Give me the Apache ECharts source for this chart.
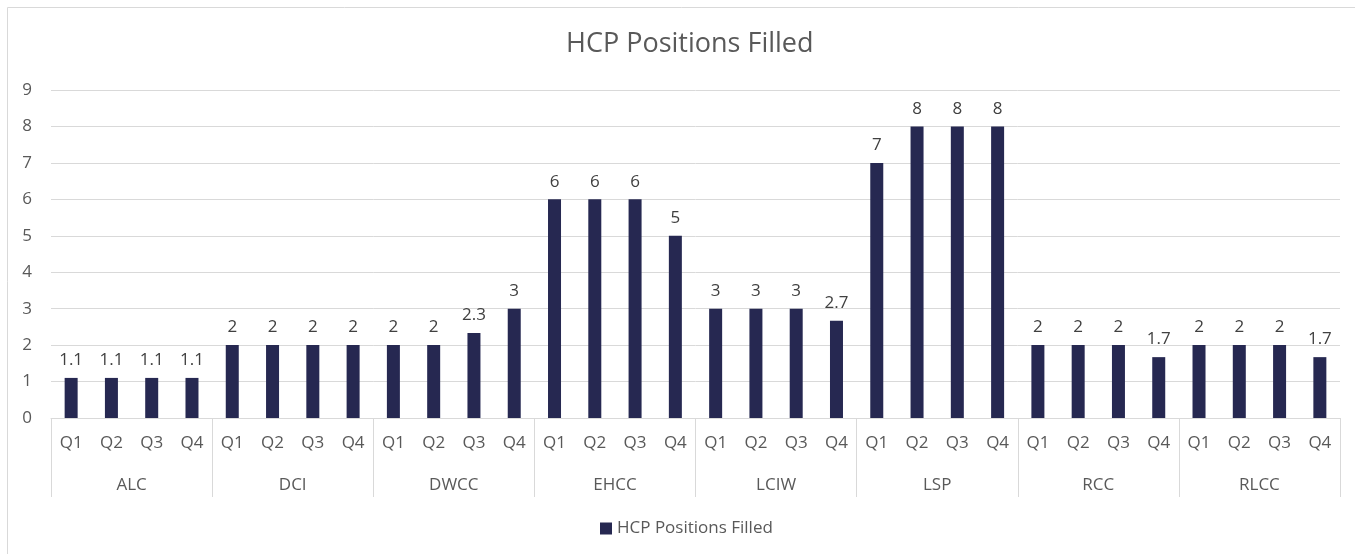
<!DOCTYPE html>
<html>
<head>
<meta charset="utf-8">
<script src="https://cdn.jsdelivr.net/npm/echarts@6/dist/echarts.min.js"></script>
<style>
  html, body { margin: 0; padding: 0; background: #fff; }
  #chart { width: 1355px; height: 554px; }
</style>
</head>
<body>
<div id="chart"></div>
<script>
// sites and quarters (two-level category axis)
var sites = ['ALC', 'DCI', 'DWCC', 'EHCC', 'LCIW', 'LSP', 'RCC', 'RLCC']
var quarters = ['Q1', 'Q2', 'Q3', 'Q4']
// values per site, Q1..Q4
var alc = [1.1, 1.1, 1.1, 1.1]
var dci = [2, 2, 2, 2]
var dwcc = [2, 2, 2.33, 3]
var ehcc = [6, 6, 6, 5]
var lciw = [3, 3, 3, 2.67]
var lsp = [7, 8, 8, 8]
var rcc = [2, 2, 2, 1.67]
var rlcc = [2, 2, 2, 1.67]
var yTicks = [0, 1, 2, 3, 4, 5, 6, 7, 8, 9]

var seriesName = 'HCP Positions Filled'
var textColor = '#595959'
var font = 'Open Sans'

// flatten into one row per quarter
var quarterLabels = []
var values = []
;[alc, dci, dwcc, ehcc, lciw, lsp, rcc, rlcc].forEach(function (arr) {
  arr.forEach(function (v, i) {
    quarterLabels.push(quarters[i])
    values.push(v)
  })
})

var chart = echarts.init(document.getElementById('chart'))
chart.setOption({
  animation: false,
  textStyle: { fontFamily: font },
  title: {
    text: seriesName,
    left: 561,
    top: 26,
    textStyle: { color: textColor, fontSize: 27, fontWeight: 400, fontFamily: font }
  },
  legend: {
    bottom: 12,
    left: 595,
    itemWidth: 12,
    itemHeight: 12,
    itemGap: 5,
    icon: 'rect',
    textStyle: { color: textColor, fontSize: 17, fontFamily: font },
    data: [seriesName]
  },
  grid: { left: 51, right: 15, top: 90, bottom: 136 },
  xAxis: [
    {
      type: 'category',
      data: quarterLabels,
      position: 'bottom',
      axisLine: { lineStyle: { color: '#d9d9d9' } },
      axisTick: { show: false },
      axisLabel: { color: textColor, fontSize: 17, margin: 17, interval: 0 }
    },
    {
      type: 'category',
      data: sites,
      position: 'bottom',
      axisLine: { show: false },
      axisTick: { show: true, length: 79, lineStyle: { color: '#d9d9d9' } },
      axisLabel: { color: textColor, fontSize: 17, margin: 59, interval: 0 },
      splitLine: { show: false }
    }
  ],
  yAxis: {
    type: 'value',
    min: yTicks[0],
    max: yTicks[yTicks.length - 1],
    interval: 1,
    axisLine: { show: false },
    axisTick: { show: false },
    splitLine: { lineStyle: { color: '#d9d9d9' } },
    axisLabel: { color: textColor, fontSize: 17, margin: 19 }
  },
  series: [{
    name: seriesName,
    type: 'bar',
    xAxisIndex: 0,
    data: values,
    barWidth: 13,
    itemStyle: { color: '#262851' },
    label: {
      show: true,
      position: 'top',
      distance: 9,
      color: '#404040',
      fontSize: 17,
      formatter: function (p) { return String(Math.round(p.value * 10) / 10) }
    }
  }],
  graphic: [{
    type: 'rect',
    shape: { x: 7.5, y: 7.5, width: 1400, height: 600 },
    style: { fill: 'none', stroke: '#d9d9d9', lineWidth: 1 },
    silent: true
  }]
})
</script>
</body>
</html>
